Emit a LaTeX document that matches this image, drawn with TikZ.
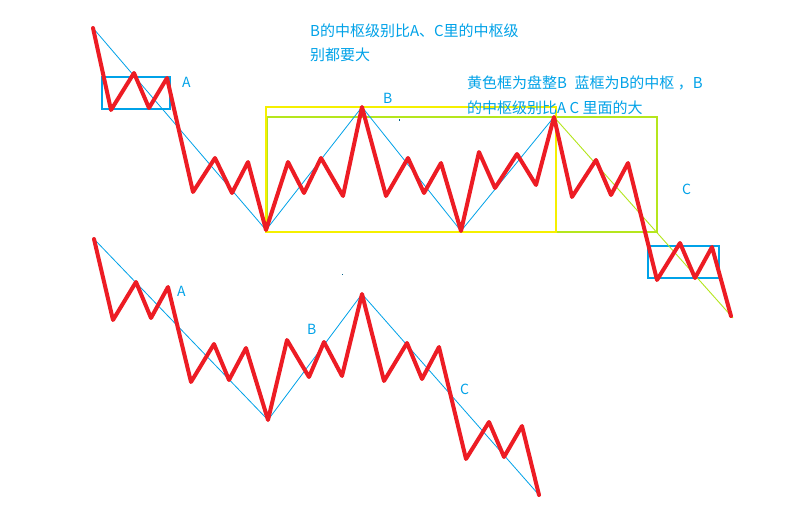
\documentclass[tikz,border=0pt]{standalone}
\usepackage{fontspec}
\newfontfamily\cjk{Noto Sans CJK SC}
\definecolor{pred}{HTML}{ED1C24}
\definecolor{pblue}{HTML}{00A2E8}
\definecolor{pyellow}{HTML}{F5F000}
\definecolor{plime}{HTML}{B5E61D}
\tikzset{
  wave/.style={draw=pred,line width=4pt,line join=round,line cap=round},
  trend/.style={draw=pblue,line width=0.8pt},
  trendc/.style={draw=plime,line width=0.9pt},
  hubbox/.style={draw=pblue,line width=1.3pt},
  txt/.style={text=pblue,font=\cjk\fontsize{15}{18}\selectfont,inner sep=0pt,anchor=base west},
  lbl/.style={text=pblue,font=\cjk\fontsize{14}{16}\selectfont,inner sep=0pt,anchor=base west}
}
\begin{document}
\begin{tikzpicture}[x=1pt,y=-1pt]
\useasboundingbox[fill=white] (0,0) rectangle (809,516);
% ---------- top chart ----------
\coordinate (t0) at (93,28);
\coordinate (tB1) at (266,230);
\coordinate (tP1) at (362,107);
\coordinate (tB2) at (461,231);
\coordinate (tP2) at (554,117);
\coordinate (tE) at (731,316);
% boxes
\draw[draw=plime,line width=1.3pt] (267,117) rectangle (657,232);
\draw[draw=pyellow,line width=1.5pt] (266,107) rectangle (556,232);
\draw[hubbox] (102,77) rectangle (170,109);
\draw[hubbox] (648,246) rectangle (719,278);
% trend lines
\draw[trend] (t0) -- (tB1) -- (tP1) -- (tB2) -- (tP2);
\draw[trendc] (tP2) -- (733,318);
% red wave
\draw[wave] (t0) -- (111,110) -- (134,73) -- (149,108) -- (167,78) -- (193,192)
  -- (215,158) -- (232,193) -- (248,162) -- (tB1) -- (288,162) -- (304,193)
  -- (321,158) -- (343,196) -- (tP1) -- (386,196) -- (408,158) -- (424,193)
  -- (441,163) -- (tB2) -- (479,152) -- (495,188) -- (517,154) -- (536,185)
  -- (tP2) -- (572,197) -- (596,160) -- (611,195) -- (628,163) -- (657,280)
  -- (680,243) -- (695,278) -- (712,247) -- (tE);
% labels
\node[lbl] (la1) at (182,88) {A};
\node[lbl] (lb1) at (383,104) {B};
\node[lbl] (lc1) at (682,194) {C};
\node[txt] (n1) at (310,37) {B的中枢级别比A、C里的中枢级};
\node[txt] (n2) at (310,61) {别都要大};
\node[txt] (n3) at (467,89) {黄色框为盘整B\enspace 蓝框为B的中枢 ，B};
\node[txt] (n4) at (467,114) {的中枢级别比A C 里面的大};
\fill[pblue!60!black] (398.5,119.5) rectangle (400,121);
% ---------- bottom chart ----------
\coordinate (b0) at (94,239);
\coordinate (bB1) at (268,420);
\coordinate (bP1) at (362,294);
\coordinate (bE) at (539,495);
\draw[trend] (b0) -- (bB1) -- (bP1) -- (bE);
\draw[wave] (b0) -- (113,320) -- (136,282) -- (151,318) -- (168,287) -- (191,382)
  -- (214,344) -- (229,380) -- (246,348) -- (bB1) -- (287,340) -- (309,377)
  -- (324,342) -- (342,376) -- (bP1) -- (384,381) -- (407,343) -- (422,379)
  -- (439,347) -- (466,459) -- (489,422) -- (504,457) -- (522,426) -- (bE);
\node[lbl] (la2) at (177,296) {A};
\node[lbl] (lb2) at (307,334) {B};
\node[lbl] (lc2) at (460,394) {C};
\fill[pblue!60!black] (341.5,273.5) rectangle (343,275);
\end{tikzpicture}
\end{document}
